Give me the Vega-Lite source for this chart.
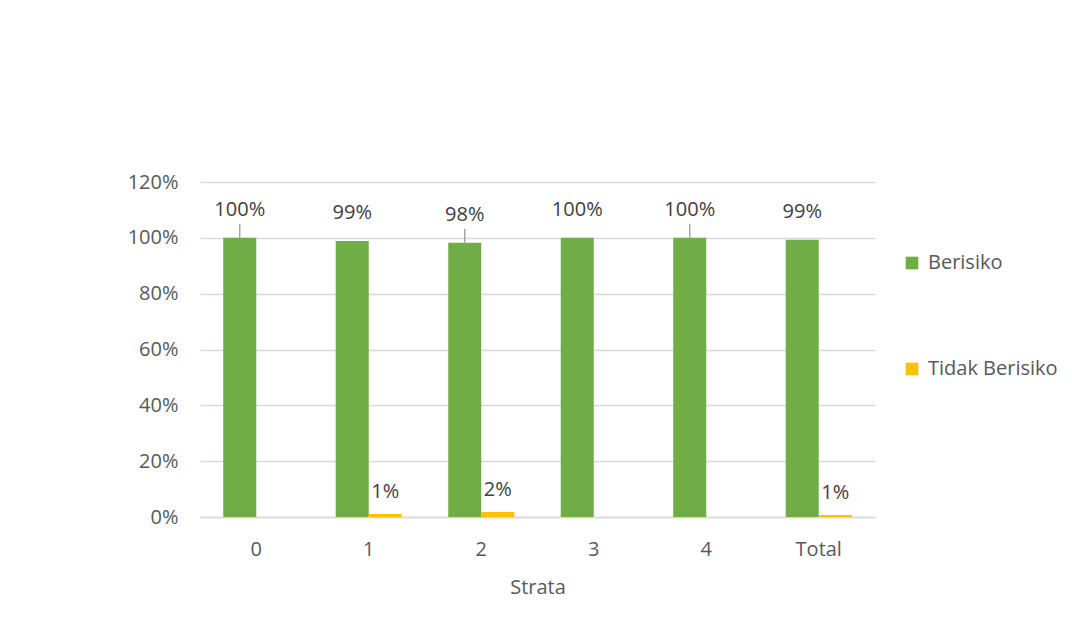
{
  "$schema": "https://vega.github.io/schema/vega-lite/v6.json",
  "autosize": "none",
  "padding": {"left": 200, "top": 182, "right": 197, "bottom": 118},
  "width": 675,
  "height": 335,
  "background": "white",
  "config": {
    "font": "Open Sans",
    "view": {"stroke": null},
    "axis": {"labelColor": "#595959", "titleColor": "#595959", "labelFont": "Open Sans", "titleFont": "Open Sans"},
    "legend": {"labelColor": "#595959", "labelFont": "Open Sans"}
  },
  "data": {
    "values": [
      {"Strata": "0", "Kategori": "Berisiko", "Nilai": 1.0},
      {"Strata": "0", "Kategori": "Tidak Berisiko", "Nilai": 0.0},
      {"Strata": "1", "Kategori": "Berisiko", "Nilai": 0.989},
      {"Strata": "1", "Kategori": "Tidak Berisiko", "Nilai": 0.011},
      {"Strata": "2", "Kategori": "Berisiko", "Nilai": 0.982},
      {"Strata": "2", "Kategori": "Tidak Berisiko", "Nilai": 0.018},
      {"Strata": "3", "Kategori": "Berisiko", "Nilai": 1.0},
      {"Strata": "3", "Kategori": "Tidak Berisiko", "Nilai": 0.0},
      {"Strata": "4", "Kategori": "Berisiko", "Nilai": 1.0},
      {"Strata": "4", "Kategori": "Tidak Berisiko", "Nilai": 0.0},
      {"Strata": "Total", "Kategori": "Berisiko", "Nilai": 0.993},
      {"Strata": "Total", "Kategori": "Tidak Berisiko", "Nilai": 0.007}
    ]
  },
  "encoding": {
    "x": {
      "field": "Strata",
      "type": "nominal",
      "sort": null,
      "scale": {"paddingInner": 0.413, "paddingOuter": 0.2065},
      "axis": {
        "title": "Strata",
        "labelAngle": 0,
        "labelFontSize": 20,
        "labelPadding": 22,
        "ticks": false,
        "domainColor": "#d9d9d9",
        "domainWidth": 1.5,
        "titleFontSize": 20,
        "titleFontWeight": "normal",
        "titlePadding": 18
      }
    },
    "xOffset": {
      "field": "Kategori",
      "type": "nominal",
      "sort": ["Berisiko", "Tidak Berisiko"],
      "scale": {"paddingInner": 0, "paddingOuter": 0}
    },
    "y": {
      "field": "Nilai",
      "type": "quantitative",
      "scale": {"domain": [0, 1.2], "nice": false},
      "axis": {
        "title": null,
        "format": ".0%",
        "values": [0, 0.2, 0.4, 0.6, 0.8, 1.0, 1.2],
        "labelFontSize": 20,
        "labelPadding": 22,
        "ticks": false,
        "domain": false,
        "gridColor": "#d9d9d9",
        "gridWidth": 1.5
      }
    }
  },
  "layer": [
    {
      "mark": {"type": "bar"},
      "encoding": {
        "color": {
          "field": "Kategori",
          "type": "nominal",
          "sort": ["Berisiko", "Tidak Berisiko"],
          "scale": {"domain": ["Berisiko", "Tidak Berisiko"], "range": ["#70ad47", "#ffc000"]},
          "legend": {
            "title": null,
            "orient": "none",
            "legendX": 702,
            "legendY": 71,
            "padding": 0,
            "symbolType": "square",
            "symbolSize": 160,
            "symbolStrokeWidth": 0,
            "labelFontSize": 20,
            "labelOffset": 6,
            "rowPadding": 86
          }
        }
      }
    },
    {
      "transform": [{"filter": "datum.Kategori === 'Berisiko' && (datum.Strata === '0' || datum.Strata === '2' || datum.Strata === '4')"}],
      "mark": {"type": "rule", "color": "#a6a6a6", "strokeWidth": 1.5, "y2Offset": -14},
      "encoding": {
        "y2": {"field": "Nilai"}
      }
    },
    {
      "transform": [{"filter": "datum.Kategori === 'Berisiko'"}],
      "mark": {"type": "text", "baseline": "alphabetic", "dy": -22, "fontSize": 20, "color": "#404040"},
      "encoding": {
        "text": {"field": "Nilai", "type": "quantitative", "format": ".0%"}
      }
    },
    {
      "transform": [{"filter": "datum.Kategori === 'Tidak Berisiko' && datum.Nilai > 0"}],
      "mark": {"type": "text", "baseline": "alphabetic", "dy": -16, "fontSize": 20, "color": "#404040"},
      "encoding": {
        "text": {"field": "Nilai", "type": "quantitative", "format": ".0%"}
      }
    }
  ]
}
